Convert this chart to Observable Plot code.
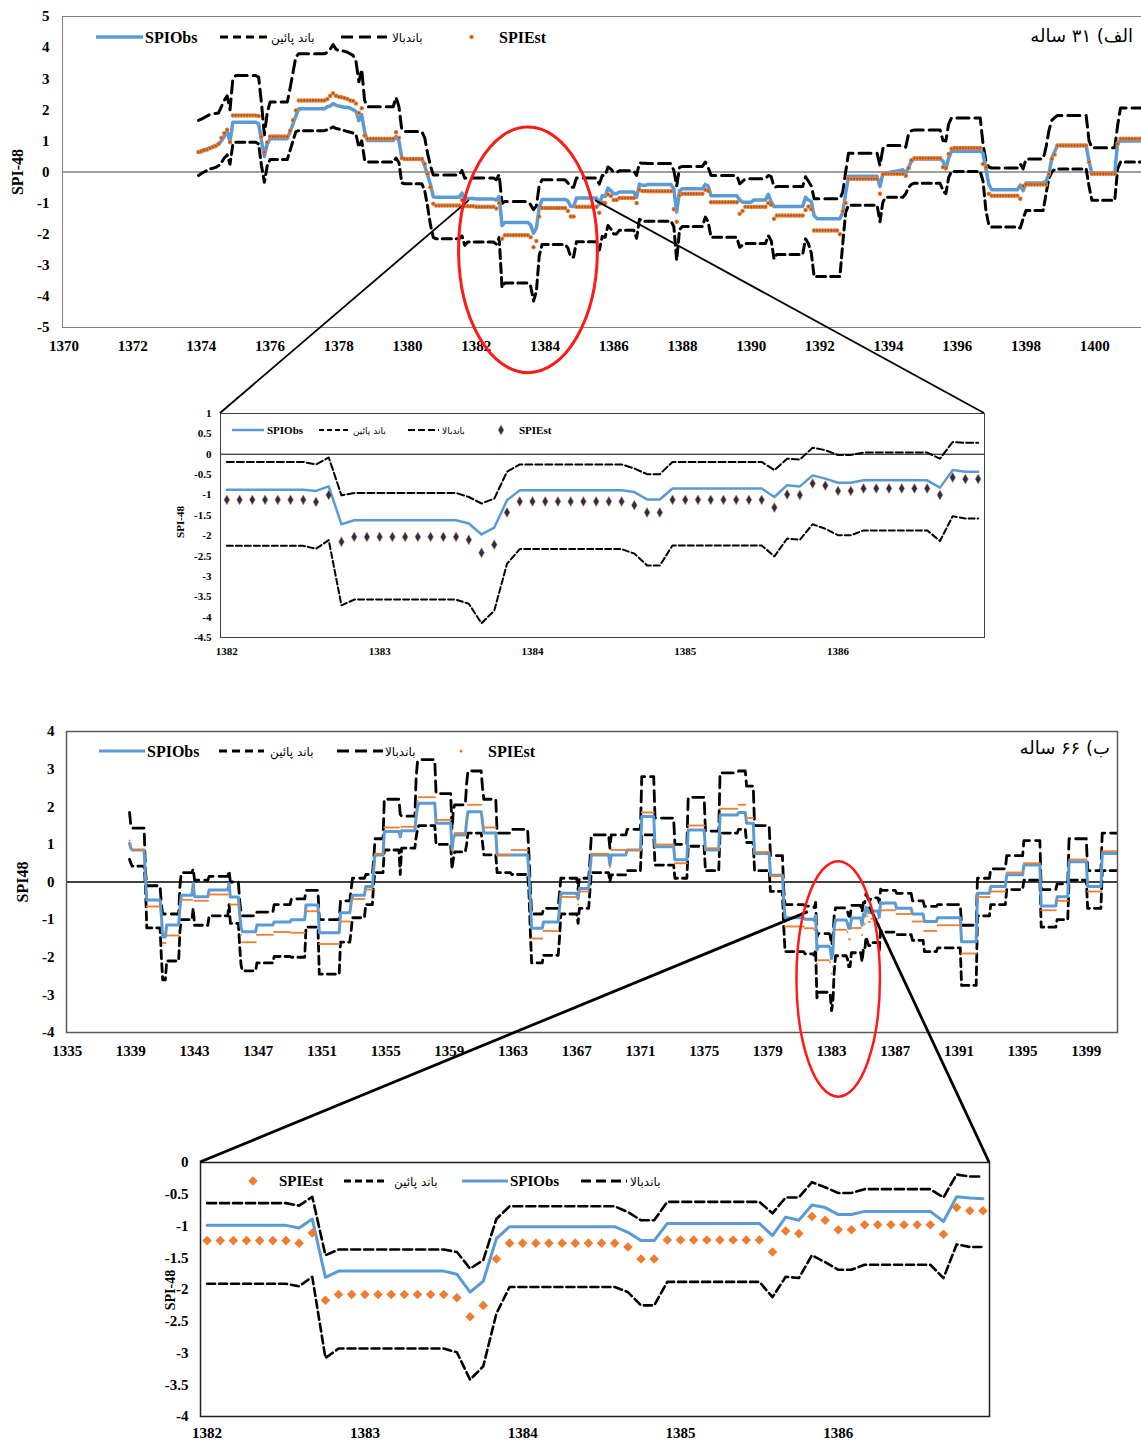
<!DOCTYPE html>
<html><head><meta charset="utf-8">
<script src="https://cdn.jsdelivr.net/npm/d3@7"></script>
<script src="https://cdn.jsdelivr.net/npm/@observablehq/plot@0.6"></script>
<style>
html,body{margin:0;padding:0;background:#fff;overflow:hidden;}
#wrap{position:relative;width:1141px;height:1441px;overflow:hidden;background:#fff;}
.panel{position:absolute;}
</style></head><body><div id="wrap"></div>
<script>
// ===================== DATA =====================
// Panel A (31-year record): monthly SPI-48, first value at 1373/12.
// Numbers are single months; [value, n] = value held for n months.
const startA = 1373 + 11/12;
const obsA_pre = [0.64,0.68,0.72,0.74,0.78,0.82,0.85,0.9,1.0,1.15,1.3,0.98,[1.6,9],1.55,1.0,0.5,0.9,[1.07,7],1.3,1.55,1.8,[2.03,10],2.1,2.12,2.2,2.15,2.12,2.1,2.08,2.08,2.05,2.0,1.95,1.65,1.85,1.3,[1.01,10],1.15,1.0,0.45,[0.42,7],0.2,-0.1,-0.4,-0.8,[-0.81,9],-0.68,-0.88,[-0.85,3]];
const estA_pre = [0.64,0.66,0.7,0.72,0.76,0.8,0.84,0.9,1.1,1.25,1.36,0.96,[1.82,9],1.8,1.14,0.64,0.95,[1.14,7],1.33,1.66,1.98,[2.3,10],2.35,2.45,2.53,2.45,2.42,2.4,2.38,2.35,2.3,2.28,2.2,1.9,2.05,1.17,[1.07,10],1.28,1.1,0.45,[0.42,7],0.26,-0.06,-0.49,-1.02,[-1.08,9],-0.9,-1.1,[-1.1,3]];
const upA_pre = [1.66,1.7,1.75,1.8,1.85,1.87,1.88,1.9,2.1,2.3,2.45,2.0,3.0,[3.1,8],3.05,2.2,1.2,1.9,[2.25,7],2.7,3.2,3.7,[3.8,10],3.85,3.95,4.1,3.95,3.9,3.9,3.88,3.85,3.8,3.75,3.55,2.9,3.3,2.3,[2.1,10],2.4,2.1,1.35,[1.3,7],1.1,0.6,0.2,-0.1,[-0.1,9],0.05,-0.2,[-0.19,3]];
const loA_pre = [-0.11,-0.05,0.0,0.05,0.1,0.12,0.15,0.2,0.3,0.45,0.55,0.25,0.9,[0.96,8],0.9,0.2,-0.33,0.2,[0.4,7],0.7,1.0,1.3,[1.33,10],1.36,1.4,1.45,1.4,1.38,1.35,1.33,1.3,1.28,1.25,1.2,0.8,1.0,0.4,[0.32,10],0.45,0.3,-0.35,[-0.38,7],-0.6,-1.1,-1.7,-2.1,[-2.15,9],-2.05,-2.36,[-2.25,3]];
// 1382/1 .. 1386/12 (shown enlarged in the zoom panel)
const obsZA = [[-0.87,7],-0.9,-0.79,-1.72,[-1.62,9],-1.7,-1.97,-1.8,-1.13,[-0.885,9],-0.93,[-1.11,2],[-0.84,8],-1.05,-0.76,-0.79,-0.52,-0.6,[-0.7,2],[-0.64,6],-0.82,-0.39,[-0.43,2]];
const estZA = [[-1.12,7],-1.17,-1.0,-2.15,[-2.03,9],-2.1,-2.42,-2.22,-1.43,[-1.16,9],-1.25,[-1.43,2],[-1.12,8],-1.31,-0.99,-1.0,-0.72,-0.77,[-0.9,2],[-0.84,6],-1.0,-0.57,[-0.61,2]];
const upZA = [[-0.19,7],-0.25,-0.08,-1.01,[-0.95,9],-1.05,-1.21,-1.09,-0.43,[-0.25,9],-0.35,[-0.49,2],[-0.19,8],-0.39,-0.11,-0.13,0.16,0.10,[-0.02,2],[0.04,6],-0.11,0.30,[0.28,2]];
const loZA = [[-2.25,7],-2.32,-2.11,-3.71,[-3.57,9],-3.67,-4.15,-3.84,-2.69,[-2.33,9],-2.44,[-2.73,2],[-2.24,8],-2.51,-2.07,-2.10,-1.72,-1.83,[-1.99,2],[-1.87,6],-2.13,-1.52,[-1.58,2]];
const obsA_post = [[-0.40,9],-0.55,-1.29,-0.6,[-0.54,8],-0.4,-0.45,[-0.76,10],-0.9,[-0.97,4],[-0.9,5],-0.72,-0.95,[-1.11,11],-0.81,-0.9,-0.95,-1.4,[-1.5,9],-1.3,-0.7,[-0.14,11],-0.47,-0.05,-0.03,-0.02,0.0,0.02,0.03,0.05,0.07,-0.05,0.15,0.35,[0.42,10],0.35,0.1,0.45,[0.67,11],0.6,0.1,-0.4,[-0.57,10],-0.42,-0.6,[-0.35,7],-0.3,-0.06,0.45,0.65,[0.85,11],0.35,[-0.04,9],0.95,[1.0,9]];
const estA_post = [[-0.62,9],-1.2,-1.6,-0.75,[-0.7,8],-0.57,-0.6,[-0.97,10],-1.34,-1.25,[-1.12,8],-1.0,-1.05,-1.5,[-1.4,10],-1.22,-1.11,-1.2,[-1.88,9],-2.0,-1.26,-1.0,[-0.22,11],-0.7,-0.08,[-0.06,7],-0.12,0.13,0.38,[0.44,10],0.15,0.13,0.58,0.75,[0.77,10],0.26,0.15,-0.7,[-0.76,10],-0.86,-0.45,[-0.4,8],-0.06,0.42,0.56,[0.85,11],0.32,[-0.06,9],0.9,[1.07,9]];
const upA_post = [[0.27,9],0.05,-0.45,0.15,[0.18,8],0.32,0.15,[-0.11,10],-0.38,-0.3,[-0.22,8],-0.11,-0.15,-0.49,[-0.47,10],-0.15,-0.3,-0.45,[-0.86,10],-0.65,0.0,[0.6,11],0.21,0.75,[0.85,7],0.8,1.23,1.33,[1.35,10],1.01,1.0,1.55,[1.74,11],0.9,0.35,0.16,[0.13,10],0.26,0.1,[0.42,7],0.8,1.33,1.66,1.75,[1.82,11],1.01,[0.78,9],1.5,[2.06,9]];
const loA_post = [[-1.58,9],-1.75,-2.84,-1.85,[-1.75,8],-1.45,-1.6,[-2.1,10],-2.42,-2.35,[-2.3,8],-2.05,-2.2,-2.79,[-2.65,10],-2.15,-2.3,-2.6,[-3.36,10],-2.3,-1.3,[-1.07,11],-1.6,-0.97,[-0.81,7],-0.7,-0.49,-0.4,[-0.36,10],-0.6,-0.7,-0.17,[0.02,11],-0.3,-1.24,-1.7,[-1.77,10],-1.8,-1.5,[-1.24,7],-0.7,-0.2,0.0,0.08,[0.1,11],-0.45,[-0.91,9],0.1,[0.32,9]];

// Panel B (66-year record): monthly SPI-48, first value at 1338/12.
const startB = 1338 + 11/12;
const lensB_pre = [1,1,10,1,11,1,3,10,1,9,1,11,15,1,7,1,1,11,13,13,11,10,16,8,1,10,6,1,7,12,1,11,1,1,13,12,1,1,9,1,11,1,10,11,13,1,1,9,12,1,13,1,8,1,14,1,12,11,10,15,10,13,11,14,6,6,12,10,1,15];
const obsB_pre = [1.03,0.9,0.85,0.12,-0.48,-0.9,-1.46,-1.14,-0.7,-0.35,-0.04,-0.39,-0.21,-0.04,-0.4,-0.85,-1.2,-1.32,-1.14,-1.06,-1.0,-0.61,-1.35,-0.82,-0.55,-0.35,-0.12,0.35,0.72,1.34,1.2,1.36,1.75,2.0,2.09,1.56,0.85,1.15,1.25,1.6,1.87,1.6,1.3,0.72,0.72,0.2,-0.5,-1.23,-1.06,-0.7,-0.3,-0.45,-0.17,0.3,0.72,0.45,0.72,0.85,1.74,0.94,0.59,1.38,0.85,1.78,1.85,1.56,0.76,0.18,-0.5,-0.95];
const estB_pre = [1.1,1.0,0.85,0.15,-0.65,-1.1,-1.62,-1.42,-0.8,-0.47,-0.2,-0.5,-0.33,-0.1,-0.6,-1.0,-1.4,-1.6,-1.4,-1.33,-1.35,-0.78,-1.65,-1.05,-0.7,-0.45,-0.2,0.4,0.75,1.45,1.3,1.47,1.85,2.15,2.25,1.65,0.9,1.2,1.3,1.7,2.05,1.75,1.45,0.72,0.85,0.25,-0.6,-1.5,-1.3,-0.85,-0.4,-0.6,-0.25,0.35,0.75,0.4,0.85,0.85,1.85,1.0,0.5,1.5,0.9,1.95,2.05,1.7,0.8,0.15,-0.6,-1.18];
const upB_pre = [1.85,1.5,1.43,0.3,-0.1,-0.6,-0.85,-0.85,-0.1,0.25,0.35,0.05,0.15,0.3,0.0,-0.5,-0.8,-0.9,-0.8,-0.6,-0.45,-0.22,-1.0,-0.5,-0.2,0.1,0.2,0.6,1.15,2.2,1.8,1.75,2.8,3.2,3.25,2.35,1.4,1.9,2.05,2.6,2.95,2.5,2.2,1.3,1.4,0.7,-0.1,-0.85,-0.7,-0.3,0.1,-0.2,0.1,0.6,1.25,0.9,1.25,1.4,2.8,1.7,1.0,2.25,1.35,2.9,2.95,2.55,1.5,0.7,-0.2,-0.6];
const loB_pre = [0.6,0.5,0.42,-0.1,-1.22,-2.0,-2.6,-2.1,-1.3,-1.0,-0.7,-1.15,-0.9,-0.6,-1.1,-1.7,-2.2,-2.36,-2.15,-1.98,-2.0,-1.2,-2.45,-1.6,-1.3,-0.95,-0.6,0.0,0.25,0.85,0.2,0.9,1.2,1.4,1.5,1.0,0.35,0.6,0.8,1.0,1.3,1.05,0.72,0.25,0.2,-0.3,-1.3,-2.15,-1.95,-1.5,-0.85,-1.1,-0.7,-0.2,0.25,0.0,0.19,0.3,1.25,0.45,0.1,0.95,0.3,1.3,1.4,1.05,0.3,-0.25,-1.2,-1.85];
// 60 months shown enlarged in the zoom panel (labelled 1382 .. 1386)
const obsZB = [[-0.99,7],-1.03,-0.89,-1.81,[-1.71,9],-1.76,-2.04,-1.87,-1.2,[-1.01,9],-1.1,[-1.23,2],[-0.96,8],-1.15,-0.86,-0.91,-0.67,-0.71,[-0.82,2],[-0.77,6],-0.93,-0.54,-0.56,-0.57];
const estZB = [[-1.23,7],-1.27,-1.11,-2.17,[-2.08,9],-2.13,-2.43,-2.25,-1.52,[-1.27,9],-1.33,[-1.52,2],[-1.22,8],-1.41,-1.08,-1.12,-0.85,-0.91,[-1.06,2],[-0.98,6],-1.13,-0.71,-0.76,-0.76];
const upZB = [[-0.64,7],-0.68,-0.54,-1.46,[-1.37,9],-1.41,-1.67,-1.54,-0.89,[-0.69,9],-0.78,[-0.91,2],[-0.62,8],-0.80,-0.55,-0.55,-0.31,-0.39,[-0.48,2],[-0.42,6],-0.55,-0.19,-0.22,-0.22];
const loZB = [[-1.91,7],-1.95,-1.8,-3.08,[-2.93,9],-2.99,-3.42,-3.21,-2.38,[-1.96,9],-2.04,[-2.25,2],[-1.88,8],-2.12,-1.8,-1.82,-1.46,-1.57,[-1.69,2],[-1.61,6],-1.82,-1.29,-1.33,-1.33];
const lensB_post = [9,12,9,10,18,12,10,12,13,13,12,9,14,11,12];
const obsB_post = [-0.56,-0.7,-0.85,-1.05,-0.95,-1.59,-0.3,-0.12,0.19,0.45,-0.64,-0.39,0.54,-0.12,0.76];
const estB_post = [-0.75,-0.85,-1.05,-1.3,-1.15,-1.9,-0.4,-0.25,0.25,0.5,-0.75,-0.5,0.6,-0.25,0.82];
const upB_post = [-0.22,-0.3,-0.5,-0.65,-0.6,-1.15,0.1,0.35,0.7,1.1,-0.2,-0.05,1.15,0.3,1.3];
const loB_post = [-1.33,-1.4,-1.55,-1.85,-1.75,-2.75,-0.9,-0.6,-0.2,0.05,-1.2,-1.0,0.05,-0.7,0.3];

// axis ticks & labels
const ticksA = d3.range(1370, 1401, 2);
const ticksB = d3.range(1335, 1401, 4);
const ticksZoom = [1382, 1383, 1384, 1385, 1386];
const legendNames = {obs: "SPIObs", lo: "باند پائین", up: "باندبالا", est: "SPIEst"};
const titleA = "الف) ۳۱ ساله";
const titleB = "ب) ۶۶ ساله";
// zoom-annotation anchors (data units of each main panel)
const ellipseA = {t: 1383.52, v: -2.52, dt: 2.02, dv: 3.95};
const ellipseB = {t: 1383.45, v: -2.59, dt: 2.62, dv: 3.13};
const linkA = [[1381.8, -0.92], [1385.47, -0.92]];
const linkB = [[1381.54, -0.8], [1385.41, -0.66]];

// ===================== HELPERS =====================
function expand(arr){const out=[];for(const a of arr){if(Array.isArray(a)){for(let k=0;k<a[1];k++)out.push(a[0]);}else out.push(a);}return out;}
function expandSeg(lens, vals){const out=[];lens.forEach((n,i)=>{for(let k=0;k<n;k++)out.push(vals[i]);});return out;}
const rows = (vals, t0) => vals.map((v,i)=>({t: t0 + i/12, v}));

const A = {
  obs: rows([...expand(obsA_pre), ...expand(obsZA), ...expand(obsA_post)], startA),
  est: rows([...expand(estA_pre), ...expand(estZA), ...expand(estA_post)], startA),
  up:  rows([...expand(upA_pre),  ...expand(upZA),  ...expand(upA_post)],  startA),
  lo:  rows([...expand(loA_pre),  ...expand(loZA),  ...expand(loA_post)],  startA)
};
const ZA = {obs: rows(expand(obsZA),1382), est: rows(expand(estZA),1382), up: rows(expand(upZA),1382), lo: rows(expand(loZA),1382)};
const B = {
  obs: rows([...expandSeg(lensB_pre,obsB_pre), ...expand(obsZB), ...expandSeg(lensB_post,obsB_post)], startB),
  est: rows([...expandSeg(lensB_pre,estB_pre), ...expand(estZB), ...expandSeg(lensB_post,estB_post)], startB),
  up:  rows([...expandSeg(lensB_pre,upB_pre),  ...expand(upZB),  ...expandSeg(lensB_post,upB_post)],  startB),
  lo:  rows([...expandSeg(lensB_pre,loB_pre),  ...expand(loZB),  ...expandSeg(lensB_post,loB_post)],  startB)
};
const ZB = {obs: rows(expand(obsZB),1382), est: rows(expand(estZB),1382), up: rows(expand(upZB),1382), lo: rows(expand(loZB),1382)};

const SERIF = "'Liberation Serif','Times New Roman',serif";
const ARAB = "'DejaVu Sans',sans-serif";
const BLUE = "#5B9BD5", ORANGE = "#ED7D31", NAVY = "#1F2F5C", DOTFILL = "#9a5428";
const baseStyle = (fs) => ({fontFamily: SERIF, fontSize: fs, fontWeight: "bold", color: "#000", background: "transparent", maxWidth: "none", overflow: "visible"});
const wrap = document.getElementById("wrap");
function place(chart, left, top){const d=document.createElement("div");d.className="panel";d.style.left=left+"px";d.style.top=top+"px";d.appendChild(chart);wrap.appendChild(d);}
const fmt = d => String(+(+d).toFixed(1));

// ===================== LAYOUT =====================
const LA = {left:0, top:0, width:1160, height:365, mL:62, mR:0, mT:16, mB:38};
const LZA = {left:0, top:400, width:1000, height:270, mL:220, mR:16, mT:13, mB:33};
const LB = {left:0, top:700, width:1141, height:370, mL:66, mR:24, mT:31, mB:38};
const LZB = {left:0, top:1150, width:1000, height:291, mL:200, mR:11, mT:12, mB:25};
const xDomA = [1370 - 1/24, 1370 - 1/24 + 1098/34.36];
const xDomB = [1335 - 1/24, 1401 - 1/24];
const xDomZ = [1382 - 1/24, 1387 - 1/24];

// ---- Panel A main
const chartA = Plot.plot({
  width: LA.width, height: LA.height, marginLeft: LA.mL, marginRight: LA.mR, marginTop: LA.mT, marginBottom: LA.mB,
  style: baseStyle("15px"),
  x: {domain: xDomA, ticks: ticksA, tickFormat: d=>String(d), tickSize: 0, tickPadding: 13, label: null},
  y: {domain: [-5,5], ticks: d3.range(-5,6), tickFormat: fmt, tickSize: 0, tickPadding: 13, label: null},
  marks: [
    Plot.ruleY([0], {stroke: "#808080", strokeWidth: 1.5}),
    Plot.line(A.lo, {x:"t", y:"v", stroke:"#000", strokeWidth:3, strokeDasharray:"9,5", clip:true}),
    Plot.line(A.up, {x:"t", y:"v", stroke:"#000", strokeWidth:3, strokeDasharray:"12,6", clip:true}),
    Plot.line(A.obs, {x:"t", y:"v", stroke:BLUE, strokeWidth:3.5, clip:true}),
    Plot.dot(A.est, {x:"t", y:"v", r:1.7, fill:DOTFILL, stroke:ORANGE, strokeWidth:1.1, clip:true}),
    Plot.frame({stroke:"#808080"})
  ]
});
place(chartA, LA.left, LA.top);

// ---- Panel A zoom
const chartZA = Plot.plot({
  width: LZA.width, height: LZA.height, marginLeft: LZA.mL, marginRight: LZA.mR, marginTop: LZA.mT, marginBottom: LZA.mB,
  style: baseStyle("11px"),
  x: {domain: xDomZ, ticks: ticksZoom, tickFormat: d=>String(d), tickSize: 0, tickPadding: 10, label: null},
  y: {domain: [-4.5,1], ticks: d3.range(-4.5,1.01,0.5), tickFormat: fmt, tickSize: 0, tickPadding: 9, label: null},
  marks: [
    Plot.ruleY([0], {stroke: "#000", strokeWidth: 1}),
    Plot.line(ZA.lo, {x:"t", y:"v", stroke:"#000", strokeWidth:2, strokeDasharray:"6,3"}),
    Plot.line(ZA.up, {x:"t", y:"v", stroke:"#000", strokeWidth:2, strokeDasharray:"7,3"}),
    Plot.line(ZA.obs, {x:"t", y:"v", stroke:BLUE, strokeWidth:2.5}),
    Plot.dot(ZA.est, {x:"t", y:"v", symbol:"diamond", r:3, fill:NAVY, stroke:ORANGE, strokeWidth:0.6}),
    Plot.frame({stroke:"#404040"})
  ]
});
place(chartZA, LZA.left, LZA.top);

// ---- Panel B main
const chartB = Plot.plot({
  width: LB.width, height: LB.height, marginLeft: LB.mL, marginRight: LB.mR, marginTop: LB.mT, marginBottom: LB.mB,
  style: baseStyle("15px"),
  x: {domain: xDomB, ticks: ticksB, tickFormat: d=>String(d), tickSize: 0, tickPadding: 13, label: null},
  y: {domain: [-4,4], ticks: d3.range(-4,5), tickFormat: fmt, tickSize: 0, tickPadding: 12, label: null},
  marks: [
    Plot.ruleY([0], {stroke: "#000", strokeWidth: 1.3}),
    Plot.line(B.lo, {x:"t", y:"v", stroke:"#000", strokeWidth:2.8, strokeDasharray:"8,5", clip:true}),
    Plot.line(B.up, {x:"t", y:"v", stroke:"#000", strokeWidth:2.8, strokeDasharray:"11,6", clip:true}),
    Plot.line(B.obs, {x:"t", y:"v", stroke:BLUE, strokeWidth:3, clip:true}),
    Plot.dot(B.est, {x:"t", y:"v", r:1.0, fill:ORANGE, clip:true}),
    Plot.frame({stroke:"#595959", strokeWidth:1.5})
  ]
});
place(chartB, LB.left, LB.top);

// ---- Panel B zoom
const chartZB = Plot.plot({
  width: LZB.width, height: LZB.height, marginLeft: LZB.mL, marginRight: LZB.mR, marginTop: LZB.mT, marginBottom: LZB.mB,
  style: baseStyle("15px"),
  x: {domain: xDomZ, ticks: ticksZoom, tickFormat: d=>String(d), tickSize: 0, tickPadding: 11, label: null},
  y: {domain: [-4,0], ticks: d3.range(-4,0.01,0.5), tickFormat: fmt, tickSize: 0, tickPadding: 12, label: null},
  marks: [
    Plot.line(ZB.lo, {x:"t", y:"v", stroke:"#000", strokeWidth:2.6, strokeDasharray:"8,4"}),
    Plot.line(ZB.up, {x:"t", y:"v", stroke:"#000", strokeWidth:2.6, strokeDasharray:"9,4"}),
    Plot.line(ZB.obs, {x:"t", y:"v", stroke:BLUE, strokeWidth:3}),
    Plot.dot(ZB.est, {x:"t", y:"v", symbol:"diamond2", r:4.3, fill:ORANGE}),
    Plot.frame({stroke:"#202020", strokeWidth:1.5})
  ]
});
place(chartZB, LZB.left, LZB.top);

// ===================== OVERLAY: legends, titles, zoom links =====================
const svg = d3.create("svg").attr("width",1141).attr("height",1441)
  .style("position","absolute").style("left","0px").style("top","0px").style("pointer-events","none");
wrap.appendChild(svg.node());

function frameBox(L){return {x0:L.left+L.mL, x1:L.left+L.width-L.mR, y0:L.top+L.mT, y1:L.top+L.height-L.mB};}
const fA = frameBox(LA), fZA = frameBox(LZA), fB = frameBox(LB), fZB = frameBox(LZB);
const sxA = d3.scaleLinear(xDomA, [fA.x0, fA.x1]), syA = d3.scaleLinear([-5,5], [fA.y1, fA.y0]);
const sxB = d3.scaleLinear(xDomB, [fB.x0, fB.x1]), syB = d3.scaleLinear([-4,4], [fB.y1, fB.y0]);

function ell(e, sx, sy, w){
  const cx = sx(e.t), cy = sy(e.v);
  svg.append("ellipse").attr("cx",cx).attr("cy",cy).attr("rx",sx(e.t+e.dt)-cx).attr("ry",sy(e.v-e.dv)-cy)
    .attr("fill","none").attr("stroke","#FF1A1A").attr("stroke-width",w);
}
function link(p, sx, sy, x2, y2, w){
  svg.append("line").attr("x1",sx(p[0])).attr("y1",sy(p[1])).attr("x2",x2).attr("y2",y2).attr("stroke","#000").attr("stroke-width",w);
}
link(linkA[0], sxA, syA, fZA.x0, fZA.y0, 1.8);
link(linkA[1], sxA, syA, fZA.x1, fZA.y0, 1.8);
ell(ellipseA, sxA, syA, 3);
link(linkB[0], sxB, syB, fZB.x0, fZB.y0, 2.8);
link(linkB[1], sxB, syB, fZB.x1, fZB.y0, 2.8);
ell(ellipseB, sxB, syB, 2.5);

function lline(x1,x2,y,stroke,w,dash){svg.append("line").attr("x1",x1).attr("x2",x2).attr("y1",y).attr("y2",y).attr("stroke",stroke).attr("stroke-width",w).attr("stroke-dasharray",dash||null);}
function ltext(x,y,t,size,bold,fam,anchor){svg.append("text").attr("x",x).attr("y",y).attr("dy","0.35em").attr("font-size",size).attr("font-weight",bold?"bold":"normal").attr("font-family",fam).attr("text-anchor",anchor||"start").attr("fill","#000").text(t);}
function ldiamond(x,y,type,size,fill,stroke){svg.append("path").attr("transform",`translate(${x},${y})`).attr("d",d3.symbol(type,size)()).attr("fill",fill).attr("stroke",stroke||"none").attr("stroke-width",0.6);}
function vtext(x,y,t,size){svg.append("text").attr("transform",`translate(${x},${y}) rotate(-90)`).attr("text-anchor","middle").attr("dy","0.35em").attr("font-size",size).attr("font-weight","bold").attr("font-family",SERIF).text(t);}

// Panel A legend
lline(96,143,37,BLUE,3.5); ltext(145,37,legendNames.obs,16,true,SERIF);
lline(220,268,37,"#000",3,"8,5"); ltext(271,38,legendNames.lo,12,false,ARAB);
lline(341,387,37,"#000",3,"12,6"); ltext(392,38,legendNames.up,12,false,ARAB);
svg.append("circle").attr("cx",471.5).attr("cy",37).attr("r",1.7).attr("fill",DOTFILL).attr("stroke",ORANGE).attr("stroke-width",1.1);
ltext(499,37,legendNames.est,16,true,SERIF);
ltext(1133,36,titleA,18,false,ARAB,"end");
vtext(17,172,"SPI-48",16);

// Zoom A legend
lline(232,264,430,BLUE,2.5); ltext(267,430,legendNames.obs,11,true,SERIF);
lline(319,350,430,"#000",2,"5,3"); ltext(353,431,legendNames.lo,9,false,ARAB);
lline(408,439,430,"#000",2,"7,3"); ltext(442,431,legendNames.up,9,false,ARAB);
ldiamond(501,430,d3.symbolDiamond,28,NAVY,ORANGE);
ltext(519,430,legendNames.est,11,true,SERIF);
vtext(180,522,"SPI-48",11);

// Panel B legend
lline(99,145,751,BLUE,3); ltext(147,751,legendNames.obs,16,true,SERIF);
lline(219,264,751,"#000",2.8,"8,5"); ltext(270,752,legendNames.lo,12,false,ARAB);
lline(337,383,751,"#000",2.8,"12,6"); ltext(385,752,legendNames.up,12,false,ARAB);
svg.append("circle").attr("cx",461).attr("cy",751).attr("r",1.5).attr("fill",ORANGE);
ltext(488,751,legendNames.est,16,true,SERIF);
ltext(1110,748,titleB,18,false,ARAB,"end");
vtext(22,882,"SPI48",16);

// Zoom B legend
ldiamond(253,1181,d3.symbolDiamond2,55,ORANGE);
ltext(279,1181,legendNames.est,15,true,SERIF);
lline(344,388,1181,"#000",3,"7,4"); ltext(394,1182,legendNames.lo,12,false,ARAB);
lline(462,508,1181,BLUE,3); ltext(510,1181,legendNames.obs,15,true,SERIF);
lline(581,627,1181,"#000",3,"10,5"); ltext(630,1182,legendNames.up,12,false,ARAB);
vtext(170,1290,"SPI-48",14);
</script></body></html>
